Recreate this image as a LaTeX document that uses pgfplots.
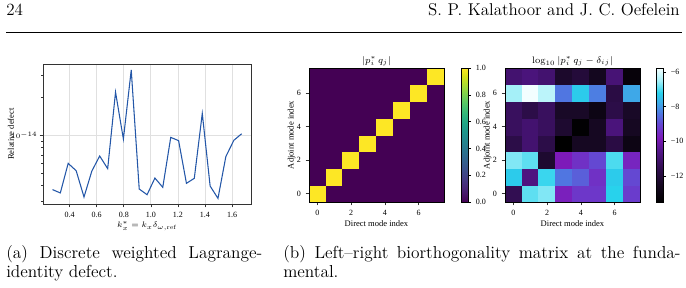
\documentclass[border=0pt]{standalone}
\usepackage{pgfplots}
\pgfplotsset{compat=1.18}
\usepackage{fontspec}
\newfontfamily\plotfont{Liberation Serif}

\definecolor{defectblue}{HTML}{2457A8}
\definecolor{framegray}{HTML}{333333}

\pgfplotsset{
  mplstyle/.style={
    scale only axis,
    axis line style={framegray, line width=0.6pt},
    tick align=outside,
    xtick pos=bottom, ytick pos=left,
    major tick length=2.6pt, minor tick length=1.5pt,
    tick style={framegray, line width=0.45pt},
    /pgf/number format/assume math mode=true,
    ticklabel style={font=\plotfont\fontsize{6}{7}\selectfont},
    label style={font=\plotfont\fontsize{6.4}{7.5}\selectfont},
    every axis title/.style={at={(0.5,1)}, anchor=south, inner sep=1.5pt,
      font=\fontsize{7}{8}\selectfont},
  },
  cbarstyle/.style={
    at={(parent axis.north east)}, anchor=north west,
    width=5.25pt,
    scale only axis,
    axis line style={black, line width=0.45pt},
    tick align=outside,
    ytick pos=right, yticklabel pos=right,
    major tick length=2pt,
    tick style={black, line width=0.45pt},
    /pgf/number format/assume math mode=true,
    ticklabel style={font=\plotfont\fontsize{6}{7}\selectfont},
  },
  colormap={logdefect}{
    rgb255(0)=(0,0,0);
    rgb255(1.0)=(22,8,34);
    rgb255(2.0)=(50,14,82);
    rgb255(3.0)=(85,22,140);
    rgb255(3.7)=(125,26,185);
    rgb255(4.5)=(100,72,210);
    rgb255(5.1)=(80,118,225);
    rgb255(5.7)=(62,168,232);
    rgb255(6.3)=(40,210,236);
    rgb255(7.0)=(165,240,248);
    rgb255(7.73)=(245,255,255)
  },
}

\begin{document}
\begin{tikzpicture}
\useasboundingbox (0pt,0pt) rectangle (514.5pt,-216pt);

% running head
\node[anchor=base west, inner sep=0pt, font=\fontsize{12.8}{15}\selectfont] at (4.5pt,-12pt) {24};
\node[anchor=base east, inner sep=0pt, font=\fontsize{12.8}{15}\selectfont] at (510pt,-12pt) {S. P. Kalathoor and J. C. Oefelein};
\draw[line width=0.6pt] (4.5pt,-24pt) -- (511.5pt,-24pt);

% (a) weighted Lagrange-identity defect
\begin{axis}[mplstyle,
  at={(32.25pt,-153pt)}, anchor=south west,
  width=156pt, height=105pt,
  xmin=0.203, xmax=1.74,
  ymode=log, ymin=2.86e-15, ymax=3.67e-14,
  xtick={0.4,0.6,0.8,1.0,1.2,1.4,1.6},
  xticklabel style={/pgf/number format/.cd, fixed, fixed zerofill, precision=1},
  ytick={1e-14}, yticklabels={$10^{-14}$},
  yticklabel style={font=\fontsize{5.5}{6.5}\selectfont, inner sep=1.5pt},
  minor ytick={3e-15,4e-15,5e-15,6e-15,7e-15,8e-15,9e-15,2e-14,3e-14},
  grid=major, major grid style={black!12, line width=0.6pt},
  xlabel={$k_x^{*} = k_x\delta_{\omega,\mathrm{ref}}$},
  ylabel={Relative defect},
  xlabel style={at={(axis description cs:0.5,0)}, anchor=center, yshift=-16.5pt},
  ylabel style={at={(axis description cs:0,0.5)}, anchor=center, yshift=24pt},
]
\addplot[defectblue, line width=0.8pt, mark=none] coordinates {
  (0.273,3.72e-15) (0.331,3.50e-15) (0.389,6.00e-15) (0.448,5.25e-15)
  (0.506,3.25e-15) (0.564,5.22e-15) (0.622,6.86e-15) (0.681,5.45e-15)
  (0.739,2.20e-14) (0.797,9.35e-15) (0.855,3.29e-14) (0.914,3.76e-15)
  (0.972,3.39e-15) (1.030,4.59e-15) (1.088,3.88e-15) (1.147,9.64e-15)
  (1.205,9.08e-15) (1.263,4.17e-15) (1.321,4.57e-15) (1.380,1.49e-14)
  (1.438,3.97e-15) (1.496,3.17e-15) (1.554,6.78e-15) (1.613,9.13e-15)
  (1.671,1.03e-14)
};
\end{axis}

% (b) left: |p_i^* q_j|
\begin{axis}[mplstyle,
  at={(231.75pt,-151.5pt)}, anchor=south west,
  width=101.25pt, height=100.5pt,
  axis line style={black, line width=0.5pt},
  xmin=-0.5, xmax=7.5, ymin=-0.5, ymax=7.5,
  xtick={0,2,4,6}, ytick={0,2,4,6},
  colormap/viridis, point meta min=0, point meta max=1,
  colorbar,
  colorbar style={cbarstyle, xshift=4.5pt,
    ytick={0,0.2,0.4,0.6,0.8,1},
    yticklabel style={/pgf/number format/.cd, fixed, fixed zerofill, precision=1}},
  title={$|p_i^{*}\,q_j|$},
  xlabel={Direct mode index}, ylabel={Adjoint mode index},
  xlabel style={at={(axis description cs:0.5,0)}, anchor=center, yshift=-16.5pt},
  ylabel style={at={(axis description cs:0,0.5)}, anchor=center, yshift=13pt},
  axis on top,
]
\addplot[matrix plot*, mesh/cols=8, point meta=explicit] coordinates {
  (0,0) [1] (1,0) [0] (2,0) [0] (3,0) [0] (4,0) [0] (5,0) [0] (6,0) [0] (7,0) [0]

  (0,1) [0] (1,1) [1] (2,1) [0] (3,1) [0] (4,1) [0] (5,1) [0] (6,1) [0] (7,1) [0]

  (0,2) [0] (1,2) [0] (2,2) [1] (3,2) [0] (4,2) [0] (5,2) [0] (6,2) [0] (7,2) [0]

  (0,3) [0] (1,3) [0] (2,3) [0] (3,3) [1] (4,3) [0] (5,3) [0] (6,3) [0] (7,3) [0]

  (0,4) [0] (1,4) [0] (2,4) [0] (3,4) [0] (4,4) [1] (5,4) [0] (6,4) [0] (7,4) [0]

  (0,5) [0] (1,5) [0] (2,5) [0] (3,5) [0] (4,5) [0] (5,5) [1] (6,5) [0] (7,5) [0]

  (0,6) [0] (1,6) [0] (2,6) [0] (3,6) [0] (4,6) [0] (5,6) [0] (6,6) [1] (7,6) [0]

  (0,7) [0] (1,7) [0] (2,7) [0] (3,7) [0] (4,7) [0] (5,7) [0] (6,7) [0] (7,7) [1]
};
\end{axis}

% (b) right: log10 |p_i^* q_j - delta_ij|
\begin{axis}[mplstyle,
  at={(378.75pt,-151.5pt)}, anchor=south west,
  width=101.25pt, height=100.5pt,
  axis line style={black, line width=0.5pt},
  xmin=-0.5, xmax=7.5, ymin=-0.5, ymax=7.5,
  xtick={0,2,4,6}, ytick={0,2,4,6},
  colormap name=logdefect, point meta min=-13.5, point meta max=-5.77,
  colorbar,
  colorbar style={cbarstyle, xshift=3.75pt,
    ytick={-12,-10,-8,-6}, yticklabels={−12,−10,−8,−6}},
  title={$\log_{10}|p_i^{*}\,q_j-\delta_{ij}|$},
  xlabel={Direct mode index}, ylabel={Adjoint mode index},
  xlabel style={at={(axis description cs:0.5,0)}, anchor=center, yshift=-16.5pt},
  ylabel style={at={(axis description cs:0,0.5)}, anchor=center, yshift=13pt},
  axis on top,
]
\addplot[matrix plot*, mesh/cols=8, point meta=explicit] coordinates {
  (0,0) [-11.5] (1,0) [-6.9] (2,0) [-6.7] (3,0) [-9.7] (4,0) [-9.3] (5,0) [-9.3] (6,0) [-7.2] (7,0) [-9.2]

  (0,1) [-7.3] (1,1) [-10.7] (2,1) [-7.1] (3,1) [-8.4] (4,1) [-8.7] (5,1) [-9.4] (6,1) [-7.3] (7,1) [-9.0]

  (0,2) [-6.7] (1,2) [-6.9] (2,2) [-12.2] (3,2) [-9.8] (4,2) [-9.4] (5,2) [-9.0] (6,2) [-7.0] (7,2) [-9.6]

  (0,3) [-11.7] (1,3) [-11.0] (2,3) [-11.7] (3,3) [-13.5] (4,3) [-12.5] (5,3) [-12.5] (6,3) [-11.8] (7,3) [-12.9]

  (0,4) [-11.3] (1,4) [-11.0] (2,4) [-11.3] (3,4) [-12.2] (4,4) [-13.4] (5,4) [-12.5] (6,4) [-10.8] (7,4) [-12.5]

  (0,5) [-11.3] (1,5) [-11.7] (2,5) [-11.3] (3,5) [-12.4] (4,5) [-12.4] (5,5) [-12.9] (6,5) [-11.7] (7,5) [-12.4]

  (0,6) [-6.5] (1,6) [-5.8] (2,6) [-6.3] (3,6) [-8.4] (4,6) [-7.3] (5,6) [-8.3] (6,6) [-11.8] (7,6) [-7.8]

  (0,7) [-11.0] (1,7) [-10.8] (2,7) [-11.0] (3,7) [-12.3] (4,7) [-12.0] (5,7) [-12.6] (6,7) [-10.9] (7,7) [-13.2]
};
\end{axis}

% subfigure captions
\node[anchor=base west, inner sep=0pt, font=\fontsize{13}{15.6}\selectfont] at (4.5pt,-194pt)
  {\makebox[192pt][s]{(a) Discrete weighted Lagrange-}};
\node[anchor=base west, inner sep=0pt, font=\fontsize{13}{15.6}\selectfont] at (4.5pt,-208pt)
  {identity defect.};
\node[anchor=base west, inner sep=0pt, font=\fontsize{13}{15.6}\selectfont] at (212.25pt,-194pt)
  {\makebox[298pt][s]{(b) Left–right biorthogonality matrix at the funda-}};
\node[anchor=base west, inner sep=0pt, font=\fontsize{13}{15.6}\selectfont] at (212.25pt,-208pt)
  {mental.};
\end{tikzpicture}
\end{document}
